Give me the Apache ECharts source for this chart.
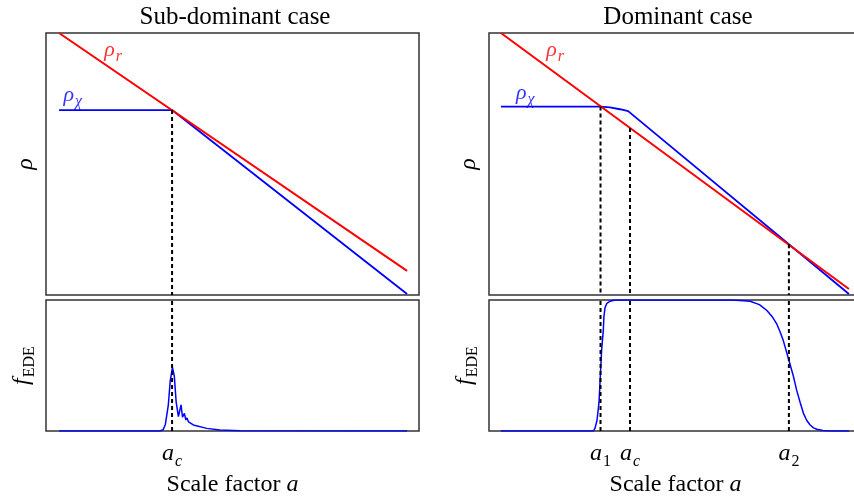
<!DOCTYPE html>
<html>
<head>
<meta charset="utf-8">
<script src="https://cdn.jsdelivr.net/npm/echarts@6/dist/echarts.min.js"></script>
<style>
  html, body { margin: 0; padding: 0; background: #fff; }
  #chart { width: 854px; height: 501px; }
</style>
</head>
<body>
<div id="chart"></div>
<script>
// 字体
const FONT = 'Liberation Serif'

// 左图：Sub-dominant case（x 为 log a 的任意单位 0~100）
const leftRhoR = [[3.5, 100], [96.8, 9.2]]
const leftRhoChi = [[3.5, 70.6], [33.8, 70.6], [96.8, 0.4]]
const leftFede = [
  [3.5, 0], [30.5, 0], [31.4, 0.01], [32.0, 0.05], [32.8, 0.2], [33.3, 0.38], [33.9, 0.485],
  [34.4, 0.42], [34.9, 0.22], [35.5, 0.11], [36.2, 0.2], [36.6, 0.105], [37.1, 0.135],
  [37.5, 0.084], [37.8, 0.1], [38.2, 0.07], [39.5, 0.046], [43.1, 0.02], [46.6, 0.008],
  [52, 0.001], [96.8, 0]
]
const leftTicks = [33.8]
const leftTickNames = ['{it|a}{subIt|c}']
const leftDashTop = [70.6]

// 右图：Dominant case
const rightRhoR = [[3.2, 100], [96.5, 2.3]]
const rightRhoChi = [
  [3.2, 71.9], [29.9, 71.9], [32.4, 71.6], [35.1, 70.9], [36.5, 70.5], [37.3, 70.2], [37.8, 69.9], [96.5, 0.4]
]
const rightFede = [
  [3.2, 0], [28.0, 0], [28.4, 0.02], [28.95, 0.08], [29.5, 0.22], [29.9, 0.45], [30.2, 0.62],
  [30.5, 0.72], [30.65, 0.77], [30.8, 0.87], [31.1, 0.94], [31.6, 0.975], [32.4, 0.99],
  [33.8, 1.0], [64.6, 1.0], [67.3, 0.997], [70.0, 0.99], [72.5, 0.965], [74.5, 0.92],
  [76.0, 0.87], [77.1, 0.82], [78.0, 0.76], [78.9, 0.69], [80.4, 0.54], [81.5, 0.43],
  [82.5, 0.31], [83.4, 0.22], [84.3, 0.135], [85.2, 0.08], [86.1, 0.046], [87.0, 0.024],
  [87.9, 0.013], [89.5, 0.004], [91.4, 0], [96.5, 0]
]
const rightTicks = [29.9, 37.8, 80.4]
const rightTickNames = ['{it|a}{sub|1}', '{it|a}{subIt|c}', '{it|a}{sub|2}']
const rightDashTop = [71.9, 63.7, 19.4]

// 曲线标注
const labelRhoR = [[18, 92.7], [17.7, 92.7]]
const labelRhoChi = [[7.2, 75.6], [9.7, 76.3]]

const RED = '#ff0000'
const BLUE = '#0000ff'

const rich = {
  it: { fontFamily: FONT, fontStyle: 'italic', fontSize: 24, verticalAlign: 'top' },
  rm: { fontFamily: FONT, fontSize: 24, verticalAlign: 'top' },
  sub: { fontFamily: FONT, fontSize: 16, verticalAlign: 'top', padding: [12, 0, 0, 1] },
  subIt: { fontFamily: FONT, fontStyle: 'italic', fontSize: 16, verticalAlign: 'top', padding: [12, 0, 0, 1] }
}

const grids = [
  { left: 46, top: 33, width: 373, height: 262 },
  { left: 46, top: 300, width: 373, height: 131 },
  { left: 489, top: 33, width: 373, height: 262 },
  { left: 489, top: 300, width: 373, height: 131 }
].map(g => Object.assign(g, {
  show: true, borderColor: '#333', borderWidth: 1.5, backgroundColor: 'transparent',
  containLabel: false, outerBoundsMode: 'none'
}))

function xAxisFor (i, ticks, names) {
  const ax = {
    gridIndex: i, type: 'value', min: 0, max: 100,
    axisLine: { show: false }, axisTick: { show: false }, splitLine: { show: false },
    axisLabel: { show: false }
  }
  if (ticks) {
    ax.axisLabel = {
      show: true, customValues: ticks, margin: 11, color: '#000', rich: rich,
      formatter: v => names[ticks.indexOf(v)]
    }
    ax.name = '{rm|Scale factor }{it|a}'
    ax.nameLocation = 'middle'
    ax.nameGap = 42
    ax.nameTextStyle = { color: '#000', rich: rich }
  }
  return ax
}

function yAxisFor (i, max, name) {
  return {
    gridIndex: i, type: 'value', min: 0, max: max,
    axisLine: { show: false }, axisTick: { show: false }, splitLine: { show: false },
    axisLabel: { show: false },
    name: name, nameLocation: 'middle', nameRotate: 90, nameGap: 8,
    nameTextStyle: { color: '#000', rich: rich }
  }
}

function lineSeries (i, data, color, width, z) {
  return {
    type: 'line', xAxisIndex: i, yAxisIndex: i, data: data, showSymbol: false,
    lineStyle: { color: color, width: width }, silent: true, z: z, animation: false
  }
}

function dashSeries (i, x, y0, y1) {
  return {
    type: 'line', xAxisIndex: i, yAxisIndex: i, data: [[x, y0], [x, y1]], showSymbol: false,
    lineStyle: { color: '#000', width: 2, type: [4, 3] }, silent: true, z: 5, animation: false
  }
}

function labelSeries (i, pos, text, color) {
  return {
    type: 'scatter', xAxisIndex: i, yAxisIndex: i, data: [pos], symbolSize: 0, silent: true,
    animation: false,
    label: {
      show: true, position: 'inside', color: color, formatter: text,
      rich: {
        it: { fontFamily: FONT, fontStyle: 'italic', fontSize: 22, color: color, verticalAlign: 'top' },
        subIt: { fontFamily: FONT, fontStyle: 'italic', fontSize: 16, color: color, verticalAlign: 'top', padding: [10, 0, 0, 1] }
      }
    }
  }
}

const series = []
// 左上
series.push(lineSeries(0, leftRhoChi, BLUE, 1.8, 2))
series.push(lineSeries(0, leftRhoR, RED, 2, 3))
leftTicks.forEach((x, k) => series.push(dashSeries(0, x, leftDashTop[k], 0)))
series.push(labelSeries(0, labelRhoR[0], '{it|ρ}{subIt|r}', RED))
series.push(labelSeries(0, labelRhoChi[0], '{it|ρ}{subIt|χ}', BLUE))
// 左下
series.push(lineSeries(1, leftFede, BLUE, 1.5, 2))
leftTicks.forEach(x => series.push(dashSeries(1, x, 0, 1)))
// 右上
series.push(lineSeries(2, rightRhoChi, BLUE, 1.8, 2))
series.push(lineSeries(2, rightRhoR, RED, 2, 3))
rightTicks.forEach((x, k) => series.push(dashSeries(2, x, rightDashTop[k], 0)))
series.push(labelSeries(2, labelRhoR[1], '{it|ρ}{subIt|r}', RED))
series.push(labelSeries(2, labelRhoChi[1], '{it|ρ}{subIt|χ}', BLUE))
// 右下
series.push(lineSeries(3, rightFede, BLUE, 1.5, 2))
rightTicks.forEach(x => series.push(dashSeries(3, x, 0, 1)))

const chart = echarts.init(document.getElementById('chart'), null, { renderer: 'canvas' })
chart.setOption({
  backgroundColor: '#fff',
  animation: false,
  title: [
    { text: 'Sub-dominant case', left: 230, top: 0, textAlign: 'center', textStyle: { fontFamily: FONT, fontSize: 25, fontWeight: 'normal', color: '#000' } },
    { text: 'Dominant case', left: 673, top: 0, textAlign: 'center', textStyle: { fontFamily: FONT, fontSize: 25, fontWeight: 'normal', color: '#000' } }
  ],
  grid: grids,
  xAxis: [
    xAxisFor(0), xAxisFor(1, leftTicks, leftTickNames),
    xAxisFor(2), xAxisFor(3, rightTicks, rightTickNames)
  ],
  yAxis: [
    yAxisFor(0, 100, '{it|ρ}'), yAxisFor(1, 1, '{it|f}{sub|EDE}'),
    yAxisFor(2, 100, '{it|ρ}'), yAxisFor(3, 1, '{it|f}{sub|EDE}')
  ],
  series: series
})
</script>
</body>
</html>
